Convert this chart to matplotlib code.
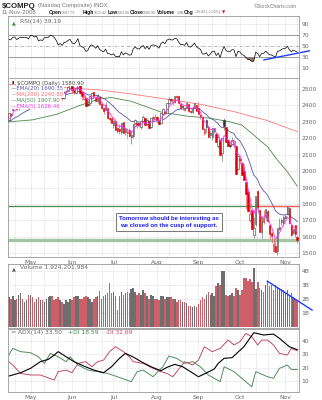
import numpy as np
import pandas as pd
import matplotlib
matplotlib.use("Agg")
import matplotlib.pyplot as plt

W, H = 322, 400

# trading days shown (US holidays removed)
holidays = ["2008-05-26", "2008-07-04", "2008-09-01"]
days = pd.bdate_range("2008-04-16", "2008-11-11")
days = days[~days.isin(pd.to_datetime(holidays))]

# closes before the visible window, only used to warm up EMA / RSI
warmup_close = [2177.01, 2268.26, 2209.96, 2258.11, 2326.75, 2341.05, 2324.36, 2280.83,
                2261.18, 2279.10, 2362.75, 2361.40, 2363.30, 2370.98, 2364.83, 2348.76,
                2322.12, 2351.70, 2290.24, 2275.82, 2286.04]

# daily OHLC, Apr 16 .. Nov 11
open_ = [2310, 2349, 2370, 2400, 2404, 2385, 2410, 2430, 2422, 2420, 2432,
         2415, 2490, 2475, 2455, 2484, 2445, 2435, 2448, 2492, 2500, 2495, 2536, 2530, 2505, 2490, 2452, 2455, 2445, 2485, 2490, 2508,
         2515, 2495, 2475, 2505, 2530, 2482, 2440, 2445, 2405, 2415, 2445, 2480, 2450, 2425, 2450, 2410, 2385, 2375, 2385, 2320, 2320,
         2280, 2305, 2260, 2255, 2240, 2295, 2240, 2235, 2250, 2205, 2215, 2290, 2290, 2290, 2270, 2305, 2320, 2285, 2305, 2270, 2325, 2315,
         2330, 2305, 2295, 2345, 2360, 2355, 2415, 2435, 2420, 2420, 2455, 2455, 2410, 2395, 2375, 2390, 2405, 2365, 2360, 2390, 2400,
         2385, 2340, 2325, 2235, 2310, 2270, 2220, 2205, 2245, 2225, 2150, 2190, 2110, 2310, 2265, 2185, 2160, 2165, 2160, 2150, 2010,
         2070, 2050, 2000, 1930, 1870, 1700, 1760, 1610, 1680, 1880, 1760, 1630, 1690, 1720, 1755, 1670, 1620, 1515, 1545, 1515, 1650, 1690, 1685,
         1715, 1740, 1775, 1670, 1625, 1670, 1597.73]
high = [2351, 2355, 2406, 2410, 2406, 2412, 2445, 2432, 2436, 2432, 2452,
        2482, 2495, 2478, 2486, 2492, 2458, 2452, 2490, 2505, 2520, 2535, 2538, 2551, 2508, 2500, 2470, 2456, 2485, 2495, 2518, 2528,
        2516, 2510, 2515, 2551, 2535, 2485, 2470, 2448, 2435, 2456, 2480, 2485, 2455, 2470, 2452, 2412, 2390, 2420, 2385, 2330, 2330,
        2306, 2315, 2270, 2285, 2296, 2300, 2260, 2255, 2260, 2245, 2286, 2318, 2295, 2295, 2306, 2340, 2320, 2315, 2310, 2322, 2335, 2345,
        2335, 2310, 2350, 2385, 2375, 2416, 2452, 2445, 2440, 2460, 2465, 2460, 2415, 2400, 2390, 2420, 2408, 2375, 2395, 2415, 2402,
        2418, 2345, 2325, 2260, 2315, 2280, 2245, 2260, 2265, 2240, 2215, 2195, 2200, 2326, 2270, 2195, 2175, 2205, 2190, 2150, 2095,
        2080, 2055, 2045, 1935, 1880, 1805, 1765, 1720, 1845, 1885, 1765, 1720, 1765, 1771, 1765, 1675, 1635, 1590, 1580, 1650, 1715, 1715, 1735,
        1740, 1785, 1776, 1675, 1650, 1670, 1612.42]
low = [2305, 2330, 2365, 2390, 2370, 2375, 2395, 2400, 2418, 2410, 2405,
       2410, 2465, 2460, 2445, 2436, 2435, 2428, 2445, 2478, 2495, 2485, 2515, 2505, 2480, 2440, 2448, 2435, 2440, 2470, 2488, 2505,
       2475, 2470, 2470, 2500, 2472, 2435, 2430, 2390, 2395, 2405, 2440, 2455, 2425, 2415, 2405, 2380, 2350, 2370, 2320, 2300, 2290,
       2265, 2250, 2230, 2225, 2225, 2233, 2220, 2200, 2210, 2167, 2200, 2280, 2260, 2270, 2255, 2300, 2278, 2280, 2262, 2265, 2300, 2310,
       2295, 2280, 2290, 2340, 2350, 2352, 2410, 2420, 2405, 2415, 2440, 2410, 2380, 2370, 2365, 2388, 2360, 2352, 2355, 2385, 2366,
       2345, 2315, 2258, 2220, 2235, 2208, 2200, 2190, 2235, 2179, 2140, 2098, 2060, 2250, 2178, 2150, 2140, 2160, 2145, 1983, 2005,
       2045, 1975, 1945, 1770, 1754, 1690, 1645, 1595, 1665, 1760, 1628, 1590, 1680, 1700, 1690, 1585, 1565, 1505, 1505, 1490, 1640, 1670, 1665,
       1710, 1740, 1680, 1605, 1615, 1600, 1563.95]
close = [2350.11, 2341.83, 2402.97, 2408.04, 2376.94, 2405.21, 2428.92, 2422.93, 2424.40, 2426.57, 2412.80,
         2480.71, 2476.94, 2464.10, 2483.31, 2438.49, 2451.24, 2445.52, 2488.49, 2495.12, 2496.70, 2533.73, 2528.85, 2516.09, 2492.26, 2448.27, 2464.58, 2444.67, 2482.48, 2486.70, 2508.32, 2522.66,
         2491.53, 2480.48, 2503.14, 2549.94, 2474.56, 2459.46, 2448.94, 2394.01, 2404.35, 2454.50, 2474.78, 2457.73, 2429.71, 2462.07, 2406.09, 2385.74, 2368.28, 2401.26, 2321.37, 2315.63, 2292.98,
         2304.97, 2251.46, 2245.38, 2243.32, 2294.44, 2234.89, 2257.85, 2239.08, 2212.87, 2215.71, 2284.85, 2312.30, 2282.78, 2279.53, 2303.96, 2325.88, 2280.11, 2310.53, 2264.22, 2319.62, 2329.72, 2325.55,
         2310.96, 2285.56, 2349.83, 2378.37, 2355.73, 2414.10, 2439.95, 2430.61, 2428.62, 2453.67, 2452.52, 2416.98, 2384.36, 2389.08, 2380.38, 2414.71, 2365.59, 2361.97, 2382.46, 2411.64, 2367.52,
         2349.24, 2333.73, 2259.04, 2255.88, 2269.76, 2209.81, 2228.70, 2258.22, 2261.27, 2179.91, 2207.90, 2098.85, 2199.10, 2273.90, 2178.98, 2153.33, 2155.68, 2186.57, 2183.34, 1983.73, 2091.88,
         2069.40, 1976.72, 1947.39, 1862.96, 1754.88, 1740.33, 1645.12, 1649.51, 1844.25, 1779.01, 1628.33, 1717.71, 1711.29, 1770.03, 1696.68, 1615.75, 1603.91, 1552.03, 1505.90, 1649.47, 1657.21, 1698.52, 1720.95,
         1726.33, 1780.12, 1681.64, 1608.70, 1647.40, 1616.74, 1580.90]
# volume in billions of shares
volume = [2.1, 2.0, 2.2, 1.9, 2.0, 2.3, 2.4, 2.0, 1.8, 1.9, 2.3,
          2.3, 2.1, 1.8, 2.0, 2.1, 1.9, 1.9, 1.8, 2.0, 2.1, 2.2, 2.2, 1.9, 2.0, 2.1, 1.9, 1.8, 1.6, 1.9, 1.8, 2.0,
          1.9, 2.1, 2.2, 2.2, 2.0, 2.0, 2.1, 2.2, 2.1, 2.0, 1.8, 2.0, 2.1, 2.2, 2.55, 2.0, 2.2, 2.3, 2.4, 3.1, 2.4,
          2.5, 2.2, 1.2, 2.2, 2.5, 2.3, 2.4, 2.5, 2.4, 2.7, 2.8, 2.5, 2.3, 2.4, 2.3, 2.6, 2.4, 2.2, 2.0, 2.3, 2.2, 2.0,
          2.0, 1.9, 2.2, 2.2, 2.0, 2.1, 2.1, 2.1, 2.0, 2.0, 1.8, 1.9, 1.9, 1.8, 1.8, 1.7, 1.5, 1.5, 1.4, 1.5, 1.4,
          1.6, 1.9, 2.1, 2.0, 2.3, 2.5, 2.3, 2.4, 2.2, 2.9, 3.1, 3.0, 4.0, 4.0, 2.3, 2.2, 2.3, 2.4, 2.2, 2.8, 2.6,
          2.3, 2.6, 3.5, 3.5, 3.3, 3.4, 3.2, 4.2, 2.7, 3.2, 2.8, 2.6, 2.5, 3.0, 3.26, 2.9, 3.0, 2.6, 3.0, 2.8, 2.8, 2.7, 2.6,
          2.5, 2.6, 2.3, 2.4, 2.1, 2.0, 1.92]

# moving averages (date -> value)
ma50_dates = ["04-16", "05-02", "05-20", "06-06", "06-20", "06-30", "07-15", "08-05", "08-22",
              "09-10", "09-24", "10-02", "10-08", "10-21", "10-28", "11-04", "11-11"]
ma50_vals = [2300, 2312, 2345, 2400, 2440, 2448, 2425, 2360, 2335,
             2322, 2300, 2280, 2240, 2148, 2067, 1996, 1908]
ma200_dates = ["04-16", "05-20", "06-20", "07-15", "08-05", "09-03", "09-26", "10-20", "11-11"]
ma200_vals = [2528, 2512, 2494, 2470, 2443, 2407, 2362, 2311, 2241]

# ADX(14), +DI, -DI
adx_dates = ["04-16", "04-24", "05-01", "05-08", "05-14", "05-19", "05-21", "05-28", "06-03", "06-10",
             "06-17", "06-24", "06-30", "07-07", "07-10", "07-16", "07-22", "07-29", "08-05", "08-08",
             "08-14", "08-20", "08-26", "09-02", "09-08", "09-12", "09-16", "09-19", "09-25", "10-03",
             "10-10", "10-17", "10-24", "10-29", "11-05", "11-11"]
adx_vals = [13.7, 16.2, 19.5, 24.5, 26.2, 29.5, 32, 28.2, 24.5, 21.2,
            18.2, 16.2, 20.7, 27, 30.7, 28, 24.5, 20.7, 17.7, 20.2,
            22.5, 20.7, 17, 13.2, 16, 19, 23.2, 27, 27.5, 35.7,
            46.2, 44.5, 45.2, 42, 35.7, 33.5]
pdi_dates = ["04-16", "04-18", "04-24", "05-01", "05-07", "05-12", "05-15", "05-21", "05-28", "05-30",
             "06-05", "06-12", "06-19", "06-26", "07-03", "07-15", "07-18", "07-23", "07-30", "08-06",
             "08-11", "08-15", "08-21", "08-27", "09-03", "09-09", "09-17", "09-19", "09-26", "10-03",
             "10-09", "10-13", "10-21", "10-24", "10-29", "11-04", "11-06", "11-11"]
pdi_vals = [29.5, 34.5, 32, 31.2, 28.2, 23.2, 30.7, 28.2, 24.5, 28.2,
            22, 18.2, 17, 15.7, 13.2, 9.5, 17, 18.2, 13.2, 20.7,
            28.7, 27, 23.2, 24.5, 20.7, 14.5, 9.5, 20.7, 17, 10.7,
            5.7, 17, 13.2, 12, 19.5, 22, 18.7, 18.6]
mdi_dates = ["04-16", "04-18", "04-24", "05-01", "05-08", "05-19", "05-21", "05-28", "06-02", "06-05",
             "06-11", "06-16", "06-19", "06-24", "06-27", "07-02", "07-09", "07-14", "07-16", "07-23",
             "07-30", "08-05", "08-08", "08-13", "08-19", "08-21", "08-27", "09-02", "09-05", "09-11",
             "09-17", "09-23", "09-26", "10-01", "10-06", "10-09", "10-14", "10-16", "10-21", "10-24",
             "10-29", "11-04", "11-06", "11-11"]
mdi_vals = [24.5, 22, 15.7, 14.5, 14.5, 10.7, 17, 18.2, 16.2, 23.2,
            24.5, 20.7, 24.5, 25.7, 32, 35.7, 32, 28.2, 24.5, 23.2,
            19.5, 17, 15.7, 13.2, 20.7, 24.5, 22, 25.7, 35.7, 32,
            34.5, 40.7, 37, 39.5, 45.7, 43.2, 37, 40.7, 40.7, 37,
            30.7, 29.5, 34.5, 32.7]

support_high = 1790
support_low = 1582
resist_from = "10-13"
# hand-drawn trend lines (trading-day number, value)
rsi_trend = ([128.8, 152.5], [25.0, 41.8])
vol_trend = ([130.8, 153.5], [3.26, 1.19])

note = "Tomorrow should be interesting as\nwe closed on the cusp of support."

n = len(days)
assert len(open_) == len(high) == len(low) == len(close) == len(volume) == n
x = np.arange(n)
o, h, l, c = map(np.array, (open_, high, low, close))
vol = np.array(volume)


def pos(dates):
    return np.array([days.get_loc(pd.Timestamp("2008-" + d)) for d in dates])


full = pd.Series(warmup_close + close)
k = len(warmup_close)
ema5 = full.ewm(span=5, adjust=False).mean().values[k:]
ema20 = full.ewm(span=20, adjust=False).mean().values[k:]

# Wilder RSI(14)
d = np.diff(full.values)
g, ls_ = np.clip(d, 0, None), np.clip(-d, 0, None)
ag, al = np.full(len(d), np.nan), np.full(len(d), np.nan)
ag[13], al[13] = g[:14].mean(), ls_[:14].mean()
for i in range(14, len(d)):
    ag[i] = (ag[i - 1] * 13 + g[i]) / 14
    al[i] = (al[i - 1] * 13 + ls_[i]) / 14
rsi = (100 - 100 / (1 + ag / al))[k - 1:]

prev = full.values[k - 1:-1]
up = c >= prev

GRAY = "#666666"
GRID = "#c8c8c8"
FS = 4.3

fig = plt.figure(figsize=(W / 100, H / 100), dpi=100)


def panel(top, bottom):
    a = fig.add_axes([8 / W, 1 - bottom / H, 291 / W, (bottom - top) / H])
    a.set_xlim(-0.4, n - 0.1)
    for s in a.spines.values():
        s.set_color("#999999")
        s.set_linewidth(0.6)
    a.yaxis.tick_right()
    a.tick_params(length=0, labelsize=FS, colors=GRAY, pad=2)
    return a


ax_rsi = panel(16, 78)
ax_p = panel(78, 257)
ax_v = panel(264, 328)
ax_a = panel(329, 392)

# month ticks and ~10-day grid
month_pos, month_lab, grid_pos = [], [], []
for per in pd.period_range("2008-05", "2008-11", freq="M"):
    month_pos.append(np.searchsorted(days, per.start_time))
    month_lab.append(per.strftime("%b"))
for per in pd.period_range("2008-04", "2008-11", freq="M"):
    for dd in (1, 11, 21):
        i = np.searchsorted(days, per.start_time + pd.Timedelta(days=dd - 1))
        if 0 < i < n:
            grid_pos.append(i)
for a in (ax_rsi, ax_p, ax_v, ax_a):
    for gp in sorted(set(grid_pos)):
        a.axvline(gp, color=GRID, lw=0.5, ls=(0, (1, 1.5)), zorder=0)
    a.set_xticks(month_pos)
    a.set_xticklabels(month_lab if a in (ax_p, ax_a) else [])

# RSI
ax_rsi.set_ylim(-7.5, 104.5)
ax_rsi.set_yticks([10, 30, 50, 70, 90])
for lv in (10, 90):
    ax_rsi.axhline(lv, color=GRID, lw=0.5, ls=(0, (1, 1.5)))
ax_rsi.axhline(70, color="#888888", lw=0.6)
ax_rsi.axhline(30, color="#888888", lw=0.6)
ax_rsi.axhline(50, color="#999999", lw=0.5, ls=(0, (4, 2, 1, 2)))
ax_rsi.fill_between(x, rsi, 30, where=rsi < 30, interpolate=True, color="#9c6e62", lw=0)
ax_rsi.fill_between(x, rsi, 70, where=rsi > 70, interpolate=True, color="#9c6e62", lw=0)
ax_rsi.plot(x, rsi, color="black", lw=0.5)
ax_rsi.plot(*rsi_trend, color="#1f3cff", lw=1.0, clip_on=False, solid_capstyle="butt")
ax_rsi.text(0.012, 0.93, "\u25B2", transform=ax_rsi.transAxes, fontsize=3.5, color="#3a8a3a", va="top")
ax_rsi.text(0.04, 0.95, "RSI(14) 39.19", transform=ax_rsi.transAxes, fontsize=FS, color=GRAY, va="top")

# price
ax_p.set_ylim(1477, 2567)
ax_p.set_yticks(range(1500, 2501, 100))
for lv in range(1500, 2501, 100):
    ax_p.axhline(lv, color=GRID, lw=0.5, ls=(0, (1, 1.5)), zorder=0)
ax_p.axhline(support_low, color="#a3c4a3", lw=2.4, zorder=1)
ax_p.axhline(support_high, color="#4c8c4c", lw=0.9, zorder=1)
ax_p.hlines(support_high, pos([resist_from])[0], n, color="#ff5a5a", lw=0.9, zorder=2, clip_on=False)
ax_p.plot(pos(ma200_dates), ma200_vals, color="#ff7878", lw=0.6, zorder=3)
ax_p.plot(pos(ma50_dates), ma50_vals, color="#4a8a4a", lw=0.6, zorder=3)
ax_p.plot(x, ema20, color="#5656a8", lw=0.6, zorder=3)
col = np.where(up, "#333333", "#e00000")
ax_p.vlines(x, l, h, color=np.where(up, "#777777", "#e06060"), lw=0.5, zorder=4)
face = np.where(c < o, col, "white")
ax_p.bar(x, np.abs(c - o) + 1.5, bottom=np.minimum(o, c), width=0.75,
         color=face, edgecolor=col, lw=0.4, zorder=5)
ax_p.plot(x, ema5, color="#ff30ff", lw=0.6, zorder=6)

leg = [("$COMPQ (Daily) 1580.90", "#444444"), ("\u2014EMA(20) 1690.35", "#5656a8"),
       ("\u2014MA(200) 2240.80", "#ff6a6a"), ("\u2014MA(50) 1907.90", "#4a8a4a"),
       ("\u2014EMA(5) 1626.46", "#ee30ee")]
for i, (t, cl) in enumerate(leg):
    xx = 0.012 if i else 0.03
    ax_p.text(xx, 0.985 - i * 0.032, t, transform=ax_p.transAxes, fontsize=FS - 0.4, color=cl,
              va="top", zorder=10, bbox=dict(fc="white", ec="none", pad=0.4))
ax_p.text(0.012, 0.985, "\u25AE", transform=ax_p.transAxes, fontsize=3.2, color="#333333", va="top", zorder=11)

ax_p.text(0.553, 0.195, note, transform=ax_p.transAxes, ha="center", va="center", fontsize=4.3,
          color="#1a1aff", fontweight="bold", family="Liberation Sans", linespacing=1.5, zorder=12,
          bbox=dict(boxstyle="square,pad=0.5", fc="white", ec="#777777", lw=0.7))

# volume
ax_v.set_ylim(-0.09, 4.48)
ax_v.set_yticks([1, 2, 3, 4])
ax_v.set_yticklabels(["1B", "2B", "3B", "4B"])
for lv in (1, 2, 3, 4):
    ax_v.axhline(lv, color=GRID, lw=0.5, ls=(0, (1, 1.5)), zorder=0)
ax_v.bar(x, vol, width=0.8, color=np.where(up, "#6e6e6e", "#cd5f6a"), lw=0, zorder=2)
ax_v.plot(*vol_trend, color="#1f3cff", lw=1.0, clip_on=False, zorder=5)
ax_v.text(0.012, 0.97, "\u25B2", transform=ax_v.transAxes, fontsize=3.5, color="#555555", va="top")
ax_v.text(0.04, 0.985, "Volume 1,924,201,984", transform=ax_v.transAxes, fontsize=FS, color=GRAY, va="top")

# ADX
ax_a.set_ylim(1.75, 49)
ax_a.set_yticks([10, 20, 30, 40])
for lv in (10, 20, 30, 40):
    ax_a.axhline(lv, color=GRID, lw=0.5, ls=(0, (1, 1.5)), zorder=0)
ax_a.plot(pos(pdi_dates), pdi_vals, color="#4f8f5f", lw=0.7)
ax_a.plot(pos(mdi_dates), mdi_vals, color="#c24c68", lw=0.7)
ax_a.plot(pos(adx_dates), adx_vals, color="black", lw=0.8)
y0 = 0.985
ax_a.text(0.012, y0, "= ADX(14) 33.50", transform=ax_a.transAxes, fontsize=FS, color=GRAY, va="top")
ax_a.text(0.205, y0, "+DI 18.59", transform=ax_a.transAxes, fontsize=FS, color="#3f8a4f", va="top")
ax_a.text(0.335, y0, "-DI 32.69", transform=ax_a.transAxes, fontsize=FS, color="#c24c68", va="top")


# header
def px(xp, yp):
    return xp / W, 1 - yp / H


HF = "Liberation Sans"
fig.text(*px(2, 6), "$COMPQ", fontsize=5.6, fontweight="bold", color="#222222", va="center", family=HF)
fig.text(*px(38, 6), "(Nasdaq Composite) INDX", fontsize=4.2, color="#777777", va="center", family=HF)
fig.text(*px(297, 6), "\u00A9StockCharts.com", fontsize=3.7, color="#777777", va="center", ha="right", family=HF)
fig.text(*px(2, 12.5), "11-Nov-2008", fontsize=4.4, color="#777777", va="center", family=HF)
hdr = [(49, "Open", True), (62, "1597.73", False), (83, "High", True), (94, "1612.42", False),
       (108, "Low", True), (117, "1563.95", False), (130, "Close", True), (143, "1580.90", False),
       (157, "Volume", True), (177, "1.9B", False), (184, "Chg", True), (195, "-35.84 (-2.22%)", False)]
for xp, t, b in hdr:
    fig.text(*px(xp, 12.5), t, fontsize=3.6 if b else 2.6, color="#111111" if b else "#777777",
             fontweight="bold" if b else "normal", va="center", family=HF)
fig.text(*px(222, 12.5), "\u25BC", fontsize=3.0, color="#dd0000", va="center")

fig.savefig("out.png", dpi=100)
